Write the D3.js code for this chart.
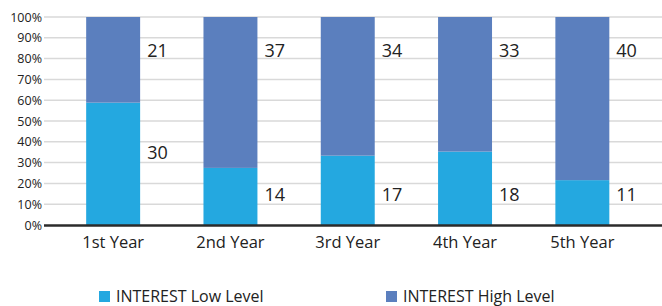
<!DOCTYPE html>
<html><head><meta charset="utf-8">
<script src="https://cdn.jsdelivr.net/npm/d3@7"></script>
<style>body{margin:0;background:#fff}svg{display:block;font-family:"Open Sans","Noto Sans",sans-serif}</style>
</head><body><svg id="c" width="662" height="306"></svg>
<script>
const categories = ["1st Year","2nd Year","3rd Year","4th Year","5th Year"];
const lowValues = [30,14,17,18,11];
const highValues = [21,37,34,33,40];
const seriesNames = ["INTEREST Low Level","INTEREST High Level"];
const seriesColors = ["#24A8E0","#5B7FBE"];
const tickValues = [0,0.1,0.2,0.3,0.4,0.5,0.6,0.7,0.8,0.9,1];

const svg = d3.select("#c");
const rows = categories.map((c,i)=>({cat:c, low:lowValues[i], high:highValues[i]}));
const stack = d3.stack().keys(["low","high"]).offset(d3.stackOffsetExpand);
const series = stack(rows);

const x = d3.scaleBand().domain(categories).range([54.5,641]).paddingInner(0.54).paddingOuter(0.27);
const y = d3.scaleLinear().domain([0,1]).range([225,17]);

// grid
svg.append("g").selectAll("line").data(tickValues.filter(t=>t>0)).join("line")
  .attr("x1",44).attr("x2",662).attr("y1",d=>y(d)).attr("y2",d=>y(d))
  .attr("stroke","#d9d9d9").attr("stroke-width",1.5);

// y axis labels
const yAxis = d3.axisLeft(y).tickValues(tickValues).tickFormat(d3.format(".0%")).tickSize(0).tickPadding(0);
const ya = svg.append("g").attr("transform","translate(42,0)").call(yAxis);
ya.select(".domain").remove();
ya.selectAll("text").attr("font-size",12.5).attr("fill","#222").attr("font-family","'Open Sans',sans-serif");

// bars
svg.append("g").selectAll("g").data(series).join("g").attr("fill",(d,i)=>seriesColors[i])
  .selectAll("rect").data(d=>d).join("rect")
  .attr("x",d=>x(d.data.cat)).attr("width",x.bandwidth())
  .attr("y",d=>y(d[1])).attr("height",d=>y(d[0])-y(d[1]));

// baseline
svg.append("line").attr("x1",44).attr("x2",662).attr("y1",y(0)+0.5).attr("y2",y(0)+0.5)
  .attr("stroke","#2b2b2b").attr("stroke-width",2.5);

// value labels
const lab = svg.append("g").attr("font-size",18).attr("fill","#222");
rows.forEach((r,i)=>{
  const lowFrac = r.low/(r.low+r.high);
  lab.append("text").attr("x",x(r.cat)+x.bandwidth()+7).attr("y",y(0.84)).attr("dy","0.35em").text(r.high);
  lab.append("text").attr("x",x(r.cat)+x.bandwidth()+7).attr("y",y(Math.max(0.145,lowFrac-0.24))).attr("dy","0.35em").text(r.low);
});

// x axis labels
const xAxis = d3.axisBottom(x).tickSize(0).tickPadding(0);
const xa = svg.append("g").attr("transform","translate(0,236)").call(xAxis);
xa.select(".domain").remove();
xa.selectAll("text").attr("font-size",16.5).attr("fill","#222").attr("dy","0.71em").attr("font-family","'Open Sans',sans-serif");

// legend
const legX = [99,386];
const leg = svg.append("g").selectAll("g").data(seriesNames).join("g")
  .attr("transform",(d,i)=>`translate(${legX[i]},290)`);
leg.append("rect").attr("y",1).attr("width",11).attr("height",11).attr("fill",(d,i)=>seriesColors[i]);
leg.append("text").attr("x",17).attr("y",12).attr("font-size",16).attr("fill","#222").text(d=>d);
</script></body></html>
